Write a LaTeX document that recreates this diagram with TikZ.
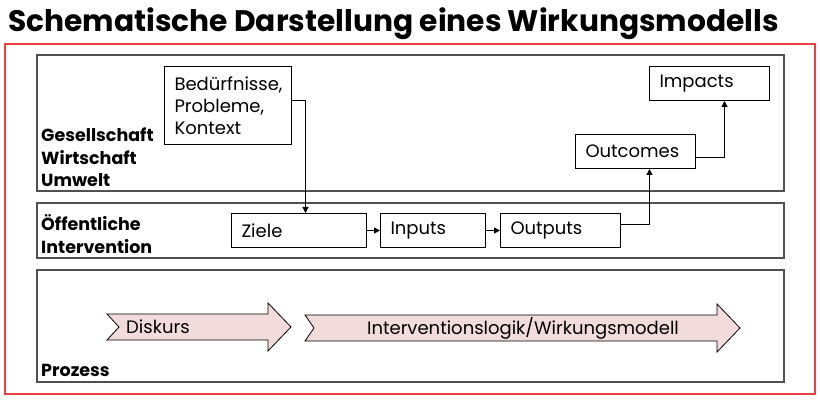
\documentclass[tikz,border=0pt]{standalone}
\usepackage{fontspec}
\setmainfont{Poppins}
\usetikzlibrary{arrows.meta}
\definecolor{rahmenrot}{RGB}{238,64,64}
\definecolor{ebenegrau}{RGB}{80,80,80}
\definecolor{pfeilrosa}{RGB}{242,220,219}
\tikzset{
  ebene/.style={draw=ebenegrau, line width=1.2pt},
  kasten/.style={draw, line width=1pt, anchor=north west, inner xsep=10pt,
    inner ysep=0pt, align=left, font=\fontsize{18}{22}\selectfont},
  marke/.style={anchor=base west, align=left, inner sep=0pt,
    font=\bfseries\fontsize{17.5}{22.5}\selectfont},
  pfeil/.style={-{Triangle[length=6pt,width=6pt]}, line width=1pt},
  block/.style={draw, line width=0.8pt, fill=pfeilrosa}
}
\begin{document}
\begin{tikzpicture}[x=1pt,y=-1pt]
    \useasboundingbox (0,0) rectangle (820,401);
    % Title
    \node[anchor=base west, inner sep=0pt, font=\bfseries\fontsize{29.7}{32}\selectfont]
      (titel) at (8,32) {Schematische Darstellung eines Wirkungsmodells};
    % Red frame
    \draw[rahmenrot, line width=1.5pt] (5,44) rectangle (815,394);
    % Layers
    \draw[ebene] (37,55) rectangle (784,191);
    \draw[ebene] (37,203) rectangle (784,258);
    \draw[ebene] (37,270) rectangle (784,382);
    % Layer labels (base = last line)
    \node[marke] (gesellschaft) at (41,186.7) {Gesellschaft\\Wirtschaft\\Umwelt};
    \node[marke] (intervention) at (41,253.3) {Öffentliche\\Intervention};
    \node[marke] (prozess) at (41,376.7) {Prozess};
    % Boxes
    \node[kasten, text width=107pt, minimum height=78pt] (bed) at (164,66)
      {Bedürfnisse,\\Probleme,\\Kontext};
    \node[kasten, text width=115pt, minimum height=34pt] (ziele) at (231,213) {Ziele};
    \node[kasten, text width=85pt, minimum height=34pt] (inputs) at (380,213) {Inputs};
    \node[kasten, text width=100pt, minimum height=34pt] (outputs) at (500,213) {Outputs};
    \node[kasten, text width=100pt, minimum height=34pt] (outcomes) at (575,134) {Outcomes};
    \node[kasten, text width=100pt, minimum height=34pt] (impacts) at (649,66) {Impacts};
    % Connectors
    \draw[pfeil] ([yshift=5pt]bed.east) -| ([xshift=6.5pt]ziele.north);
    \draw[pfeil] (ziele) -- (inputs);
    \draw[pfeil] (inputs) -- (outputs);
    \draw[pfeil] ([yshift=6pt]outputs.east) -| ([xshift=14pt]outcomes.south);
    \draw[pfeil] ([yshift=-6pt]outcomes.east) -| ([xshift=15pt]impacts.south);
    % Process arrows
    \draw[block] (107,314) -- (268,314) -- (268,303) -- (291,327) -- (268,351)
      -- (268,340) -- (107,340) -- (119,327) -- cycle;
    \draw[block] (305,315) -- (717,315) -- (717,304) -- (740,328) -- (717,352)
      -- (717,341) -- (305,341) -- (314,328) -- cycle;
    \node[anchor=west, inner sep=0pt, font=\fontsize{18}{22}\selectfont]
      (diskurs) at (126,327) {Diskurs};
    \node[inner sep=0pt, font=\fontsize{18}{22}\selectfont]
      (logik) at (523,328) {Interventionslogik/Wirkungsmodell};
\end{tikzpicture}
\end{document}
